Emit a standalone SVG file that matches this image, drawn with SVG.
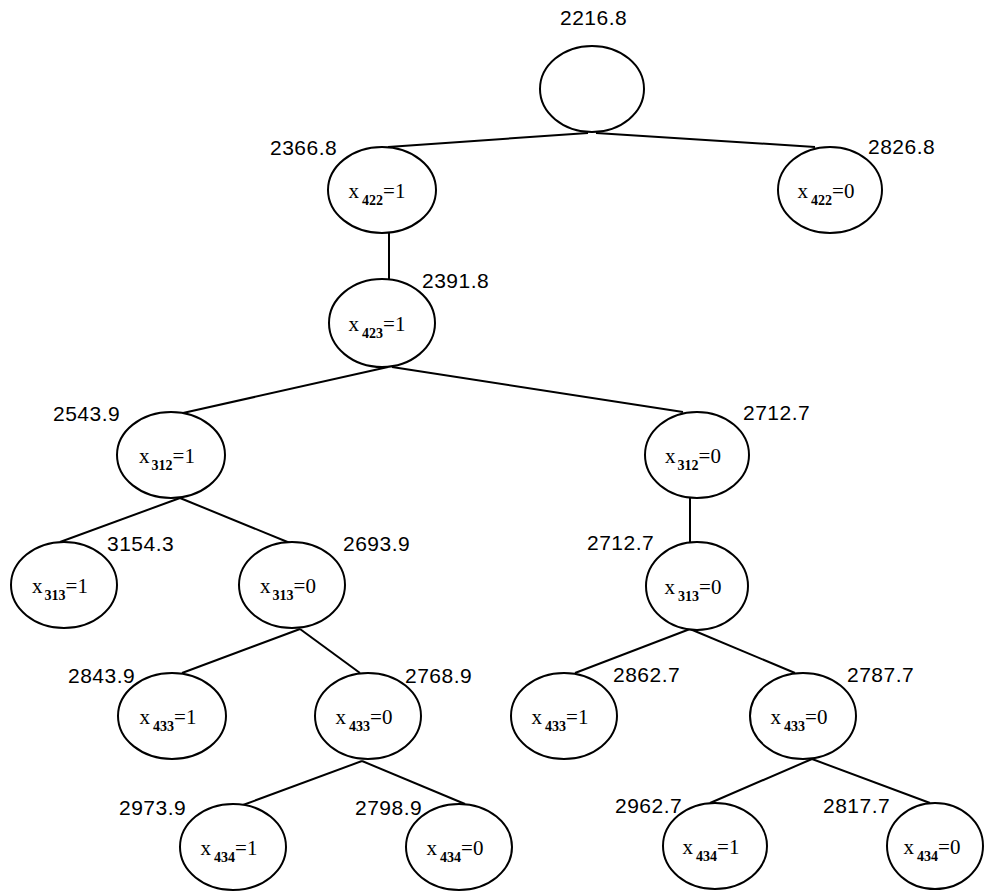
<svg xmlns="http://www.w3.org/2000/svg" width="984" height="891" viewBox="0 0 984 891">
<style>
.bg{fill:#fff}
.n ellipse{fill:#fff;stroke:#000;stroke-width:2}
.n text{font-family:"Liberation Serif","Times New Roman",serif;font-size:21px;fill:#000;text-anchor:middle}
.sub{font-size:14px;font-weight:bold}
.v{font-family:"Liberation Sans",Arial,sans-serif;font-size:21px;fill:#000;letter-spacing:0.5px}
#edges line{stroke:#000;stroke-width:2;fill:none}
</style>
<rect class="bg" x="0" y="0" width="984" height="891"/>
<g id="edges">
<line x1="588" y1="133" x2="388" y2="147"/>
<line x1="596" y1="133" x2="815" y2="147"/>
<line x1="389" y1="233" x2="389" y2="279"/>
<line x1="388" y1="367" x2="183" y2="413"/>
<line x1="392" y1="367" x2="683" y2="412"/>
<line x1="690" y1="498" x2="690" y2="542"/>
<line x1="180" y1="498" x2="60" y2="542"/>
<line x1="180" y1="498" x2="290" y2="543"/>
<line x1="300" y1="629" x2="182" y2="673"/>
<line x1="300" y1="629" x2="360" y2="673"/>
<line x1="362" y1="761" x2="243" y2="805"/>
<line x1="362" y1="761" x2="465" y2="804"/>
<line x1="690" y1="629" x2="575" y2="673"/>
<line x1="690" y1="629" x2="795" y2="673"/>
<line x1="812" y1="759" x2="710" y2="803"/>
<line x1="812" y1="759" x2="930" y2="803"/>
</g>
<g id="root" class="n"><ellipse cx="592" cy="89" rx="52" ry="43"/></g>
<g id="n422_1" class="n"><ellipse cx="382" cy="190" rx="54" ry="43"/><text x="377" y="198">x<tspan class="sub" dx="3" dy="7">422</tspan><tspan dy="-7">=1</tspan></text></g>
<g id="n422_0" class="n"><ellipse cx="830" cy="190" rx="52" ry="43"/><text x="826" y="198">x<tspan class="sub" dx="3" dy="7">422</tspan><tspan dy="-7">=0</tspan></text></g>
<g id="n423_1" class="n"><ellipse cx="382" cy="323" rx="53" ry="44"/><text x="377" y="331">x<tspan class="sub" dx="3" dy="7">423</tspan><tspan dy="-7">=1</tspan></text></g>
<g id="n312_1" class="n"><ellipse cx="171" cy="455" rx="54" ry="43"/><text x="167" y="463">x<tspan class="sub" dx="2" dy="7">312</tspan><tspan dy="-7">=1</tspan></text></g>
<g id="n312_0" class="n"><ellipse cx="697" cy="455" rx="52" ry="43"/><text x="693" y="463">x<tspan class="sub" dx="2" dy="7">312</tspan><tspan dy="-7">=0</tspan></text></g>
<g id="n313_1" class="n"><ellipse cx="64" cy="585" rx="53" ry="43"/><text x="60" y="593">x<tspan class="sub" dx="2" dy="7">313</tspan><tspan dy="-7">=1</tspan></text></g>
<g id="n313_0a" class="n"><ellipse cx="292" cy="585" rx="53" ry="43"/><text x="288" y="593">x<tspan class="sub" dx="2" dy="7">313</tspan><tspan dy="-7">=0</tspan></text></g>
<g id="n313_0b" class="n"><ellipse cx="697" cy="586" rx="51" ry="44"/><text x="693" y="594">x<tspan class="sub" dx="3" dy="7">313</tspan><tspan dy="-7">=0</tspan></text></g>
<g id="n433_1a" class="n"><ellipse cx="172" cy="716" rx="54" ry="43"/><text x="168" y="724">x<tspan class="sub" dx="3" dy="7">433</tspan><tspan dy="-7">=1</tspan></text></g>
<g id="n433_0a" class="n"><ellipse cx="368" cy="716" rx="53" ry="43"/><text x="364" y="724">x<tspan class="sub" dx="3" dy="7">433</tspan><tspan dy="-7">=0</tspan></text></g>
<g id="n433_1b" class="n"><ellipse cx="564" cy="716" rx="53" ry="43"/><text x="560" y="724">x<tspan class="sub" dx="3" dy="7">433</tspan><tspan dy="-7">=1</tspan></text></g>
<g id="n433_0b" class="n"><ellipse cx="803" cy="716" rx="53" ry="43"/><text x="799" y="724">x<tspan class="sub" dx="3" dy="7">433</tspan><tspan dy="-7">=0</tspan></text></g>
<g id="n434_1a" class="n"><ellipse cx="233" cy="847" rx="53" ry="43"/><text x="229" y="855">x<tspan class="sub" dx="3" dy="7">434</tspan><tspan dy="-7">=1</tspan></text></g>
<g id="n434_0a" class="n"><ellipse cx="459" cy="847" rx="53" ry="43"/><text x="455" y="855">x<tspan class="sub" dx="3" dy="7">434</tspan><tspan dy="-7">=0</tspan></text></g>
<g id="n434_1b" class="n"><ellipse cx="715" cy="846" rx="52" ry="43"/><text x="711" y="854">x<tspan class="sub" dx="3" dy="7">434</tspan><tspan dy="-7">=1</tspan></text></g>
<g id="n434_0b" class="n"><ellipse cx="935" cy="846" rx="48" ry="43"/><text x="932" y="854">x<tspan class="sub" dx="3" dy="7">434</tspan><tspan dy="-7">=0</tspan></text></g>
<g id="values">
<text class="v" x="560" y="25">2216.8</text>
<text class="v" x="270" y="155">2366.8</text>
<text class="v" x="868" y="154">2826.8</text>
<text class="v" x="422" y="288">2391.8</text>
<text class="v" x="53" y="421">2543.9</text>
<text class="v" x="743" y="420">2712.7</text>
<text class="v" x="587" y="550">2712.7</text>
<text class="v" x="107" y="551">3154.3</text>
<text class="v" x="343" y="551">2693.9</text>
<text class="v" x="68" y="683">2843.9</text>
<text class="v" x="405" y="683">2768.9</text>
<text class="v" x="613" y="682">2862.7</text>
<text class="v" x="847" y="682">2787.7</text>
<text class="v" x="119" y="815">2973.9</text>
<text class="v" x="355" y="815">2798.9</text>
<text class="v" x="615" y="813">2962.7</text>
<text class="v" x="823" y="813">2817.7</text>
</g>
</svg>
